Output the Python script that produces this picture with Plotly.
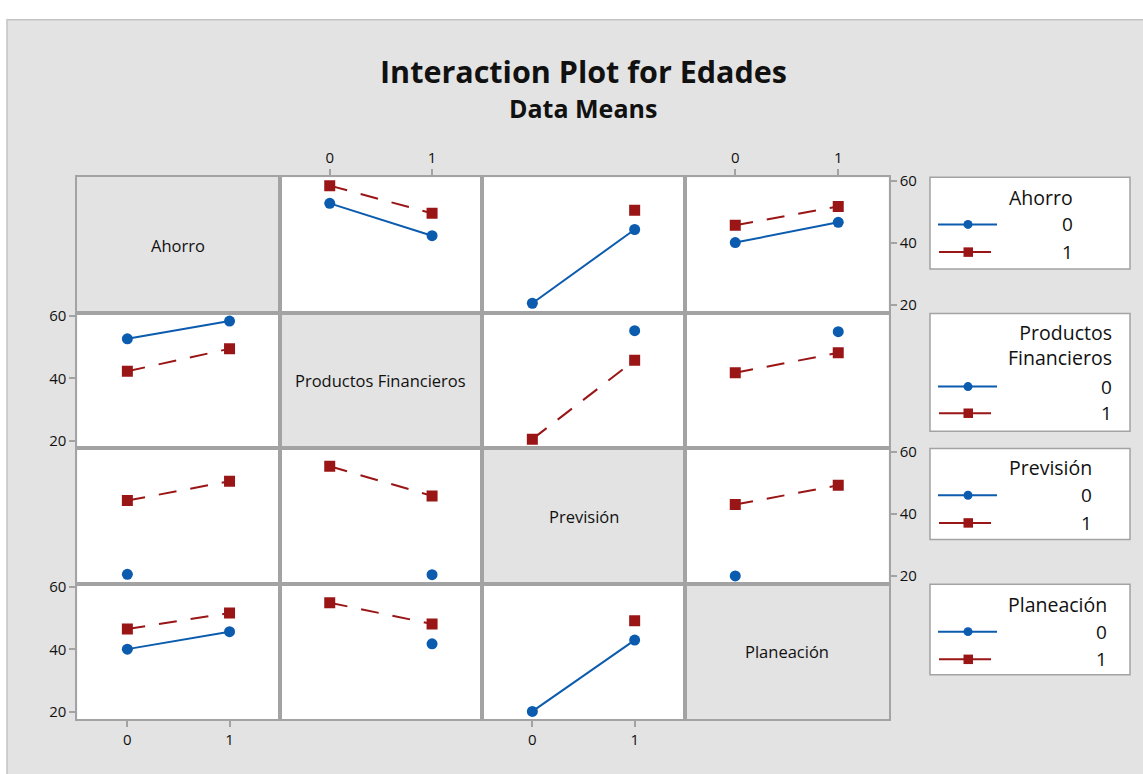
import plotly.graph_objects as go

W, H = 1143, 774

# Factors of the interaction matrix and their levels
factors = ["Ahorro", "Productos Financieros", "Previsión", "Planeación"]
legend_titles = ["Ahorro", "Productos<br>Financieros", "Previsión", "Planeación"]
levels = [0, 1]
level_labels = ["0", "1"]
y_ticks = [20, 40, 60]

# Mean Edades for each pair of factors:
# rows = level of the first factor, columns = level of the second factor
ahorro_productos = [[52.7, 42.3], [58.4, 49.5]]
ahorro_prevision = [[20.6, 44.3], [None, 50.5]]
ahorro_planeacion = [[40.1, 46.6], [45.7, 51.7]]
productos_prevision = [[None, 55.3], [20.5, 45.8]]
productos_planeacion = [[None, 55.0], [41.8, 48.2]]
prevision_planeacion = [[20.1, None], [43.0, 49.2]]

pair_means = {
    (0, 1): ahorro_productos,
    (0, 2): ahorro_prevision,
    (0, 3): ahorro_planeacion,
    (1, 2): productos_prevision,
    (1, 3): productos_planeacion,
    (2, 3): prevision_planeacion,
}

BLUE = "#0b5bae"
RED = "#9a1515"
GRID = "#a3a3a3"
BG = "#e3e3e3"
FONT = "Open Sans"

# Panel edges in pixels
col_edges = [77.3, 279.6, 482.2, 684.8, 888.7]
row_edges = [172.3, 309.3, 446.5, 583.6, 720.7]


def px(x):
    return x / W


def py(y):
    return 1 - y / H


def line_series(r, c):
    """Means for panel (r, c): traces by level of factor r, x = factor c."""
    if r < c:
        m = pair_means[(r, c)]
        return [[m[a][b] for b in levels] for a in levels]
    m = pair_means[(c, r)]
    return [[m[b][a] for b in levels] for a in levels]


fig = go.Figure()
shapes = []
annotations = []

# Outer frame of the graph window
shapes.append(dict(type="rect", xref="paper", yref="paper", x0=px(7), x1=1.01,
                   y0=-0.01, y1=py(13), fillcolor=BG,
                   line=dict(color="#c4c4c4", width=1.5), layer="below"))

layout_axes = {}
for r in range(4):
    for c in range(4):
        k = r * 4 + c + 1
        xname = "xaxis" if k == 1 else f"xaxis{k}"
        yname = "yaxis" if k == 1 else f"yaxis{k}"
        xref = "x" if k == 1 else f"x{k}"
        yref = "y" if k == 1 else f"y{k}"

        x0, x1 = col_edges[c], col_edges[c + 1]
        y0, y1 = row_edges[r], row_edges[r + 1]

        # cell background
        shapes.append(dict(type="rect", xref="paper", yref="paper",
                           x0=px(x0), x1=px(x1), y0=py(y1), y1=py(y0),
                           fillcolor=BG if r == c else "white",
                           line=dict(width=0), layer="below"))

        show_top = r == 0 and c in (1, 3)
        show_bottom = r == 3 and c in (0, 2)
        show_left = c == 0 and r in (1, 3)
        show_right = c == 3 and r in (0, 2)

        xa = dict(domain=[px(x0), px(x1)], anchor=yref, range=[-0.49, 1.49],
                  showline=True, mirror=True, linecolor=GRID, linewidth=2,
                  showgrid=False, zeroline=False, fixedrange=True,
                  tickvals=levels, ticktext=level_labels,
                  tickfont=dict(family=FONT, size=15, color="#111"))
        if show_top or show_bottom:
            xa.update(side="top" if show_top else "bottom", ticks="outside",
                      ticklen=6, tickwidth=1.5, tickcolor=GRID, showticklabels=True)
        else:
            xa.update(ticks="", showticklabels=False)

        ya = dict(domain=[py(y1), py(y0)], anchor=xref, range=[17.56, 61.08],
                  showline=True, mirror=True, linecolor=GRID, linewidth=2,
                  showgrid=False, zeroline=False, fixedrange=True,
                  tickvals=y_ticks,
                  tickfont=dict(family=FONT, size=15, color="#111"))
        if show_left or show_right:
            ya.update(side="right" if show_right else "left", ticks="outside",
                      ticklen=6, tickwidth=1.5, tickcolor=GRID, showticklabels=True)
        else:
            ya.update(ticks="", showticklabels=False)

        layout_axes[xname] = xa
        layout_axes[yname] = ya

        if r == c:
            annotations.append(dict(text=factors[r], xref="paper", yref="paper",
                                    x=px((x0 + x1) / 2), y=py((y0 + y1) / 2),
                                    showarrow=False, xanchor="center", yanchor="middle",
                                    font=dict(family=FONT, size=16.5, color="#111")))
            # keep the axis alive with an empty trace
            fig.add_trace(go.Scatter(x=[None], y=[None], xaxis=xref, yaxis=yref,
                                     showlegend=False, hoverinfo="skip"))
            continue

        series = line_series(r, c)
        ys0 = [v if v is not None else float("nan") for v in series[0]]
        ys1 = [v if v is not None else float("nan") for v in series[1]]
        fig.add_trace(go.Scatter(
            x=levels, y=ys0, xaxis=xref, yaxis=yref, mode="lines+markers",
            line=dict(color=BLUE, width=2), connectgaps=False,
            marker=dict(symbol="circle", size=11, color=BLUE),
            showlegend=False, hoverinfo="skip"))
        fig.add_trace(go.Scatter(
            x=levels, y=ys1, xaxis=xref, yaxis=yref, mode="lines+markers",
            line=dict(color=RED, width=2, dash="18px,14px"), connectgaps=False,
            marker=dict(symbol="square", size=11, color=RED),
            showlegend=False, hoverinfo="skip"))

# Legend boxes, one per factor
legend_boxes = [(172.3, 265.0), (310.0, 429.3), (446.7, 538.7), (584.0, 675.7)]
legend_title_y = [[193], [329, 355], [466], [605]]
legend_right = [1073, 1112, 1092, 1107]
legend_row_y = [(220, 248), (384, 411), (494, 522), (632, 660)]

for i, (b0, b1) in enumerate(legend_boxes):
    shapes.append(dict(type="rect", xref="paper", yref="paper",
                       x0=px(930), x1=px(1130), y0=py(b1), y1=py(b0),
                       fillcolor="white", line=dict(color=GRID, width=1.5),
                       layer="below"))
    ty = legend_title_y[i]
    annotations.append(dict(text=legend_titles[i], xref="paper", yref="paper",
                            x=px(legend_right[i] + 2), y=py(sum(ty) / len(ty)),
                            showarrow=False, xanchor="right", yanchor="middle",
                            align="right",
                            font=dict(family=FONT, size=19.5, color="#111")))
    y_blue, y_red = legend_row_y[i]
    # blue sample: line + circle
    shapes.append(dict(type="line", xref="paper", yref="paper",
                       x0=px(938), x1=px(997), y0=py(y_blue), y1=py(y_blue),
                       line=dict(color=BLUE, width=2)))
    shapes.append(dict(type="circle", xref="paper", yref="paper",
                       x0=px(963.5), x1=px(972.5), y0=py(y_blue + 4.5), y1=py(y_blue - 4.5),
                       fillcolor=BLUE, line=dict(width=0)))
    # red sample: line + square
    shapes.append(dict(type="line", xref="paper", yref="paper",
                       x0=px(939), x1=px(991), y0=py(y_red), y1=py(y_red),
                       line=dict(color=RED, width=2)))
    shapes.append(dict(type="rect", xref="paper", yref="paper",
                       x0=px(963.5), x1=px(973), y0=py(y_red + 4.8), y1=py(y_red - 4.8),
                       fillcolor=RED, line=dict(width=0)))
    for lab, yy in zip(level_labels, (y_blue, y_red)):
        annotations.append(dict(text=lab, xref="paper", yref="paper",
                                x=px(legend_right[i] + 2), y=py(yy),
                                showarrow=False, xanchor="right", yanchor="middle",
                                font=dict(family=FONT, size=19, color="#111")))

# Titles
annotations.append(dict(text="<b>Interaction Plot for Edades</b>", xref="paper", yref="paper",
                        x=px(583), y=py(65), showarrow=False,
                        xanchor="center", yanchor="middle",
                        font=dict(family=FONT, size=30.5, color="#111")))
annotations.append(dict(text="<b>Data Means</b>", xref="paper", yref="paper",
                        x=px(583), y=py(102), showarrow=False,
                        xanchor="center", yanchor="middle",
                        font=dict(family=FONT, size=25, color="#111")))

fig.update_layout(
    width=W, height=H,
    margin=dict(l=0, r=0, t=0, b=0),
    paper_bgcolor="white",
    plot_bgcolor="rgba(0,0,0,0)",
    shapes=shapes,
    annotations=annotations,
    showlegend=False,
    **layout_axes,
)

fig.write_html("out.html", config={"displayModeBar": False})
